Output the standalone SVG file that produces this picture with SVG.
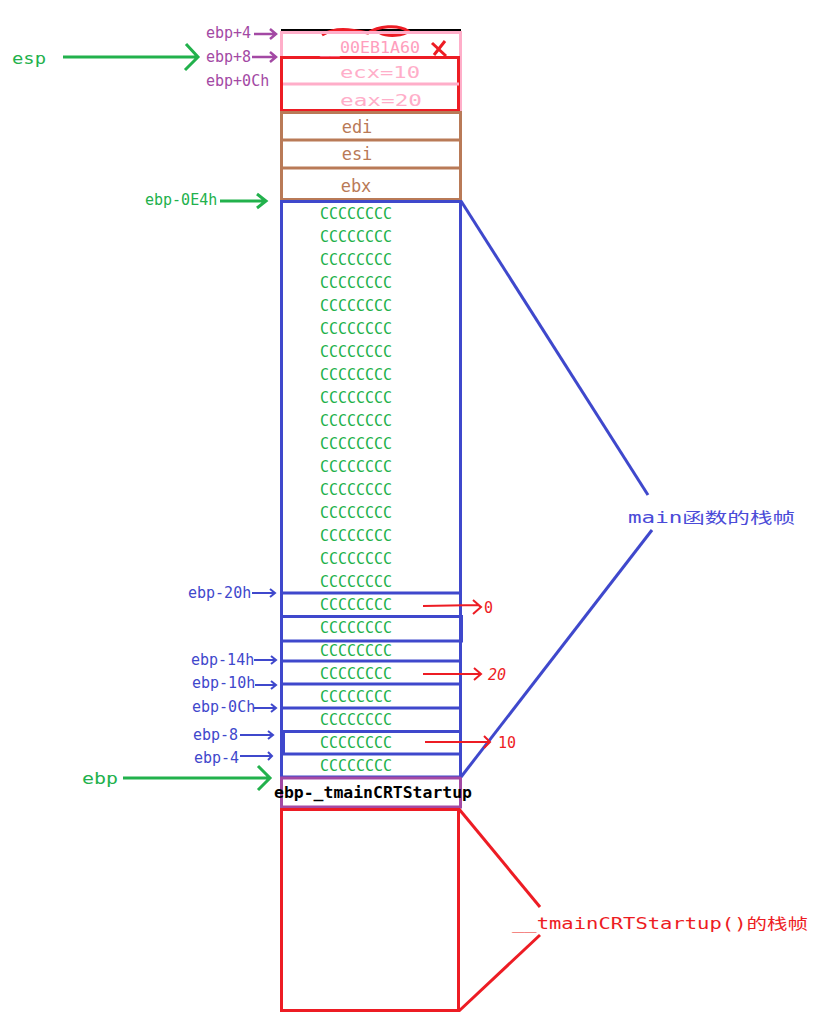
<svg xmlns="http://www.w3.org/2000/svg" width="829" height="1026" viewBox="0 0 829 1026">
<style>
text{font-family:"DejaVu Sans Mono","Noto Sans CJK SC",monospace;font-size:15px}
.cc{fill:#22b14c;text-anchor:middle}
.bl{fill:#3f48cc}
.pu{fill:#a349a4}
.gr{fill:#22b14c}
.bs{stroke:#3f48cc;stroke-width:3;fill:none}
.rs{stroke:#ed1c24;stroke-width:3;fill:none}
.br{stroke:#b97a57;stroke-width:3;fill:none}
.ab{stroke:#3f48cc;stroke-width:2;fill:none}
.ap{stroke:#a349a4;stroke-width:2.5;fill:none}
.ag{stroke:#22b14c;stroke-width:3;fill:none}
.ar{stroke:#ed1c24;stroke-width:2;fill:none}
.bt{fill:#b97a57;text-anchor:middle;font-size:17px}
</style>
<rect width="829" height="1026" fill="#ffffff"/>

<g id="saved-regs-top">
<line x1="281" y1="30" x2="461" y2="30" stroke="#000" stroke-width="2"/>
<path d="M322,35 C335,27 350,29 368,33 C378,26 398,24 408,31 C404,36 388,37 380,33" class="rs" stroke-width="2"/>
<rect x="281.5" y="32.5" width="179" height="78" fill="none" stroke="#ffaec9" stroke-width="3"/>
<rect x="281.5" y="57.5" width="177" height="53" class="rs"/>
<line x1="283" y1="84" x2="459" y2="84" stroke="#ffaec9" stroke-width="3"/>
<text x="370" y="53" text-anchor="middle" fill="#ff9ebd" font-size="16" textLength="100" lengthAdjust="spacingAndGlyphs">__00EB1A60</text>
<path d="M432,43 L446,56 M445,41 L434,55" class="rs" stroke-width="2.5"/>
<text x="380" y="78" text-anchor="middle" fill="#ffaec9" font-size="17" textLength="80" lengthAdjust="spacingAndGlyphs">ecx=10</text>
<text x="381" y="106" text-anchor="middle" fill="#ffaec9" font-size="17" textLength="82" lengthAdjust="spacingAndGlyphs">eax=20</text>
</g>

<g id="saved-regs-brown">
<rect x="281.5" y="112.5" width="179" height="87" class="br"/>
<line x1="281" y1="140" x2="461" y2="140" class="br"/>
<line x1="281" y1="168" x2="461" y2="168" class="br"/>
<text x="357" y="133" class="bt">edi</text>
<text x="357" y="160" class="bt">esi</text>
<text x="356" y="192" class="bt">ebx</text>
</g>

<g id="main-frame">
<rect x="281.5" y="201.5" width="179" height="575.5" class="bs"/>
<line x1="281" y1="593" x2="461" y2="593" class="bs"/>
<rect x="281.5" y="616.5" width="180" height="24.5" class="bs"/>
<line x1="281" y1="661" x2="461" y2="661" class="bs"/>
<line x1="281" y1="684" x2="461" y2="684" class="bs"/>
<line x1="281" y1="708" x2="461" y2="708" class="bs"/>
<rect x="283.5" y="731.5" width="177" height="22.5" class="bs"/>
<g>
<text class="cc" x="356" y="219">CCCCCCCC</text>
<text class="cc" x="356" y="242">CCCCCCCC</text>
<text class="cc" x="356" y="265">CCCCCCCC</text>
<text class="cc" x="356" y="288">CCCCCCCC</text>
<text class="cc" x="356" y="311">CCCCCCCC</text>
<text class="cc" x="356" y="334">CCCCCCCC</text>
<text class="cc" x="356" y="357">CCCCCCCC</text>
<text class="cc" x="356" y="380">CCCCCCCC</text>
<text class="cc" x="356" y="403">CCCCCCCC</text>
<text class="cc" x="356" y="426">CCCCCCCC</text>
<text class="cc" x="356" y="449">CCCCCCCC</text>
<text class="cc" x="356" y="472">CCCCCCCC</text>
<text class="cc" x="356" y="495">CCCCCCCC</text>
<text class="cc" x="356" y="518">CCCCCCCC</text>
<text class="cc" x="356" y="541">CCCCCCCC</text>
<text class="cc" x="356" y="564">CCCCCCCC</text>
<text class="cc" x="356" y="587">CCCCCCCC</text>
<text class="cc" x="356" y="610">CCCCCCCC</text>
<text class="cc" x="356" y="633">CCCCCCCC</text>
<text class="cc" x="356" y="656">CCCCCCCC</text>
<text class="cc" x="356" y="679">CCCCCCCC</text>
<text class="cc" x="356" y="702">CCCCCCCC</text>
<text class="cc" x="356" y="725">CCCCCCCC</text>
<text class="cc" x="356" y="748">CCCCCCCC</text>
<text class="cc" x="356" y="771">CCCCCCCC</text>
</g>
</g>

<g id="ebp-slot">
<rect x="281.5" y="778" width="179" height="29" fill="none" stroke="#a349a4" stroke-width="3"/>
<text x="373" y="798" text-anchor="middle" fill="#000" font-weight="bold" textLength="198" lengthAdjust="spacingAndGlyphs">ebp-_tmainCRTStartup</text>
</g>

<g id="crt-frame">
<rect x="281.5" y="809.5" width="177" height="201" class="rs"/>
</g>

<g id="label-main">
<text x="628" y="523" fill="#4b4bd8" font-size="20" textLength="167" lengthAdjust="spacingAndGlyphs">main函数的栈帧</text>
</g>
<g id="label-crt">
<text x="512" y="929" fill="#ed1c24" font-size="20" textLength="296" lengthAdjust="spacingAndGlyphs">__tmainCRTStartup()的栈帧</text>
</g>

<g id="left-labels">
<text x="12" y="64" fill="#22b14c" font-size="20" textLength="34" lengthAdjust="spacingAndGlyphs">esp</text>
<text x="206" y="38" class="pu">ebp+4</text>
<text x="206" y="62" class="pu">ebp+8</text>
<text x="206" y="86" class="pu">ebp+0Ch</text>
<text x="145" y="205" class="gr">ebp-0E4h</text>
<text x="188" y="598" class="bl">ebp-20h</text>
<text x="191" y="665" class="bl">ebp-14h</text>
<text x="192" y="688" class="bl">ebp-10h</text>
<text x="192" y="712" class="bl">ebp-0Ch</text>
<text x="193" y="740" class="bl">ebp-8</text>
<text x="194" y="763" class="bl">ebp-4</text>
<text x="82" y="784" fill="#22b14c" font-size="20" textLength="36" lengthAdjust="spacingAndGlyphs">ebp</text>
<text x="484" y="613" fill="#ed1c24" font-size="17">0</text>
<text x="488" y="680" fill="#ed1c24" font-size="17" font-style="italic">20</text>
<text x="498" y="748" fill="#ed1c24" font-size="17">10</text>
</g>

<g id="connectors">
<line x1="461" y1="201" x2="648" y2="495" class="bs"/>
<line x1="652" y1="530" x2="461" y2="777" class="bs"/>
<line x1="459" y1="809" x2="540" y2="907" class="rs"/>
<line x1="540" y1="935" x2="459" y2="1011" class="rs"/>
<path d="M63,57 L198,57 M186,44 L198,57 L185,70" class="ag"/>
<path d="M220,201 L266,201 M257,194 L266,201 L257,208" class="ag"/>
<path d="M123,778 L270,778 M258,766 L270,778 L258,790" class="ag"/>
<path d="M254,34 L276,34 M270,29 L276,34 L270,39" class="ap"/>
<path d="M252,57 L276,57 M270,52 L276,57 L270,62" class="ap"/>
<path d="M252,593 L275,593 M270,589 L275,593 L270,597" class="ab"/>
<path d="M254,660 L276,660 M271,656 L276,660 L271,664" class="ab"/>
<path d="M255,685 L276,685 M271,681 L276,685 L271,689" class="ab"/>
<path d="M254,708 L276,708 M271,704 L276,708 L271,712" class="ab"/>
<path d="M240,735 L273,735 M268,731 L273,735 L268,739" class="ab"/>
<path d="M240,756 L272,756 M268,752 L272,756 L268,760" class="ab"/>
<path d="M423,606 L478,605 L481,607 M473,600 L481,607 L473,614" class="ar"/>
<path d="M423,674 L481,674 M474,668 L481,674 L474,680" class="ar"/>
<path d="M425,742 L490,742 M484,736 L490,742 L484,748" class="ar"/>
</g>
</svg>
